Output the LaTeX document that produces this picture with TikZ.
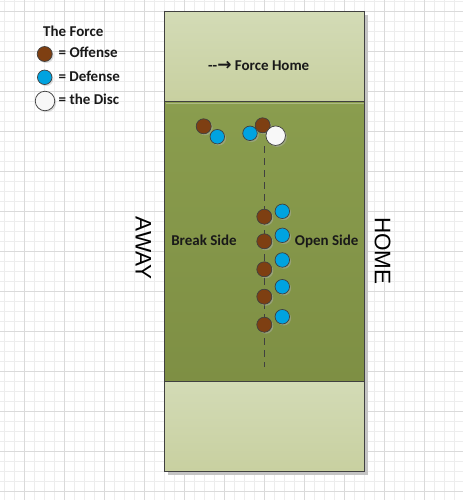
\documentclass[tikz,border=0pt]{standalone}
\usepackage{fontspec}
\setmainfont{Carlito}
\newfontfamily\arialf{Liberation Sans}
\newfontfamily\dejab{DejaVu Sans}
\usetikzlibrary{shadows}
\definecolor{gridminor}{HTML}{EDEDED}
\definecolor{gridmajor}{HTML}{DADADA}
\definecolor{ezA}{HTML}{D3DBB6}
\definecolor{ezB}{HTML}{C8D0A0}
\definecolor{fgA}{HTML}{8A9D4E}
\definecolor{fgB}{HTML}{7E8F44}
\definecolor{outl}{HTML}{404040}
\definecolor{offc}{HTML}{7E3F12}
\definecolor{defc}{HTML}{00A3E0}
\definecolor{discc}{HTML}{F8F8F8}
\definecolor{fshadow}{HTML}{C4C4C4}
\tikzset{
  minorline/.style={draw=gridminor, line width=0.8pt},
  majorline/.style={draw=gridmajor, line width=1pt},
  fieldline/.style={draw=outl, line width=1.3pt},
  dotshadow/.style={drop shadow={shadow xshift=1.5pt, shadow yshift=-1.5pt, fill=black!30, opacity=0.45}},
  offense/.style={circle, draw=outl, line width=0.7pt, fill=offc, minimum size=15pt, inner sep=0pt, dotshadow},
  defense/.style={circle, draw=outl, line width=0.7pt, fill=defc, minimum size=14.5pt, inner sep=0pt, dotshadow},
  disc/.style={circle, draw=outl, line width=0.7pt, fill=discc, minimum size=19.5pt, inner sep=0pt, dotshadow},
  lbl/.style={font=\bfseries\fontsize{15}{18}\selectfont, text=black!90, inner sep=0pt},
  sidelbl/.style={font=\arialf\fontsize{22.5}{26}\selectfont, text=black, inner sep=0pt, rotate=-90},
  dashline/.style={draw=outl, line width=1.2pt, dash pattern=on 7pt off 5pt}
}
\begin{document}
\begin{tikzpicture}[x=1pt,y=-1pt]
\useasboundingbox (0,0) rectangle (463,500);
\fill[white] (0,0) rectangle (463,500);
% grid
\foreach \i in {0,...,45} \draw[minorline] ({4.7+10*\i},0) -- ({4.7+10*\i},500);
\foreach \i in {0,...,49} \draw[minorline] (0,{1.3+10*\i}) -- (463,{1.3+10*\i});
\foreach \i in {0,...,10} \draw[majorline] ({24.7+40*\i},0) -- ({24.7+40*\i},500);
\foreach \i in {0,...,12} \draw[majorline] (0,{11.3+40*\i}) -- (463,{11.3+40*\i});
% field
\fill[fshadow] (168,15) rectangle (368,474.5);
\shade[top color=ezA, bottom color=ezB] (164.7,11.7) rectangle (364.7,101.3);
\shade[top color=fgA, bottom color=fgB] (164.7,101.3) rectangle (364.7,381.3);
\shade[top color=ezA, bottom color=ezB] (164.7,381.3) rectangle (364.7,471.3);
\draw[draw=white, opacity=0.3, line width=1.2pt] (165.5,103.2) -- (364,103.2);
\draw[fieldline] (164.7,11.7) rectangle (364.7,471.3);
\draw[fieldline] (164.7,101.3) -- (364.7,101.3);
\draw[fieldline] (164.7,381.3) -- (364.7,381.3);
% legend
\node[lbl, anchor=base west] (title) at (43,36.5) {The Force};
\node[offense] (lo) at (44.7,54) {};
\node[defense] (ld) at (44.7,77.3) {};
\node[disc] (lc) at (45,101) {};
\node[lbl, anchor=base west] (to) at (58.5,58) {= Offense};
\node[lbl, anchor=base west] (td) at (58.3,81.7) {= Defense};
\node[lbl, anchor=base west] (tc) at (58.5,105) {= the Disc};
% field labels
\node[lbl, anchor=base] (force) at (258.7,71) {-{}-{\dejab\bfseries\fontsize{17}{18}\selectfont\char"2192} Force Home};
\node[lbl, anchor=base] (brk) at (204,245.3) {Break Side};
\node[lbl, anchor=base] (opn) at (326.7,245.5) {Open Side};
\node[sidelbl] (away) at (143.3,248.3) {AWAY};
\node[sidelbl] (home) at (382.6,250.8) {HOME};
% dashed line
\coordinate (dtop) at (264.3,146);
\coordinate (dbot) at (264.3,366.5);
\draw[dashline] (dtop) -- (dbot);
% players
\node[offense] (o1) at (203.7,126.3) {};
\node[defense] (d1) at (217.3,136.7) {};
\node[offense] (o2) at (262.7,125.3) {};
\node[defense] (d2) at (250,133.3) {};
\node[disc] (disc) at (275.7,135.7) {};
\node[defense] (d3) at (282.3,211.3) {};
\node[defense] (d4) at (282.3,235.3) {};
\node[defense] (d5) at (282.3,260) {};
\node[defense] (d6) at (282.3,286.7) {};
\node[defense] (d7) at (282.3,316.7) {};
\node[offense] (o3) at (264.3,216.7) {};
\node[offense] (o4) at (264.3,241.3) {};
\node[offense] (o5) at (264.3,269.3) {};
\node[offense] (o6) at (264.3,296.7) {};
\node[offense] (o7) at (264.3,324.7) {};
\end{tikzpicture}
\end{document}
